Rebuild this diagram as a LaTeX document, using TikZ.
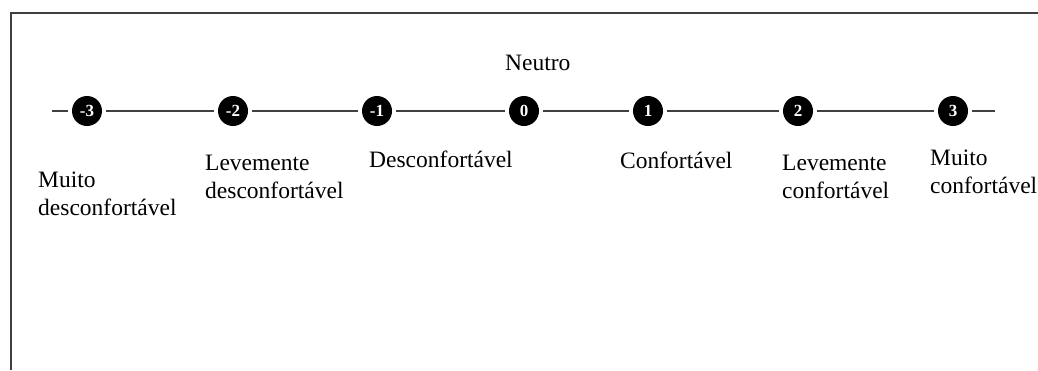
\documentclass[tikz,border=0pt]{standalone}
\usepackage{fontspec}
\setmainfont{Liberation Serif}
\usetikzlibrary{positioning}

\tikzset{
  pontobox/.style={circle, fill=black, text=white, inner sep=0pt, minimum size=30pt,
    font=\fontsize{17}{17}\selectfont\bfseries},
  rotulo/.style={anchor=base west, align=left, inner sep=0pt,
    font=\fontsize{23.5}{28}\selectfont},
  escala/.style={draw=black!75, line width=1.5pt, shorten <=4pt, shorten >=4pt}
}

\begin{document}
\begin{tikzpicture}[x=1pt, y=-1pt]
  \useasboundingbox (0,0) rectangle (1038,370);

  % frame
  \draw[black!75, line width=2pt] (11,370) -- (11,13) -- (1038,13);

  % points of the scale
  \node[pontobox] (m3) at (87,111) {-3};
  \node[pontobox] (m2) at (233,111) {-2};
  \node[pontobox] (m1) at (377,111) {-1};
  \node[pontobox] (z0) at (524,111) {0};
  \node[pontobox] (p1) at (648,111) {1};
  \node[pontobox] (p2) at (798,111) {2};
  \node[pontobox] (p3) at (953,111) {3};

  % line ends
  \coordinate (ini) at (48,111);
  \coordinate (fim) at (999,111);

  % connectors
  \draw[escala] (ini) -- (m3);
  \draw[escala] (m3) -- (m2);
  \draw[escala] (m2) -- (m1);
  \draw[escala] (m1) -- (z0);
  \draw[escala] (z0) -- (p1);
  \draw[escala] (p1) -- (p2);
  \draw[escala] (p2) -- (p3);
  \draw[escala] (p3) -- (fim);

  % labels (base = last line)
  \node[rotulo] (neutro) at (505,70) {Neutro};
  \node[rotulo] (lm3) at (38,215) {Muito\\desconfortável};
  \node[rotulo] (lm2) at (205,198) {Levemente\\desconfortável};
  \node[rotulo] (lm1) at (369,167) {Desconfortável};
  \node[rotulo] (lp1) at (620,168) {Confortável};
  \node[rotulo] (lp2) at (782,198) {Levemente\\confortável};
  \node[rotulo] (lp3) at (930,193) {Muito\\confortável};
\end{tikzpicture}
\end{document}
